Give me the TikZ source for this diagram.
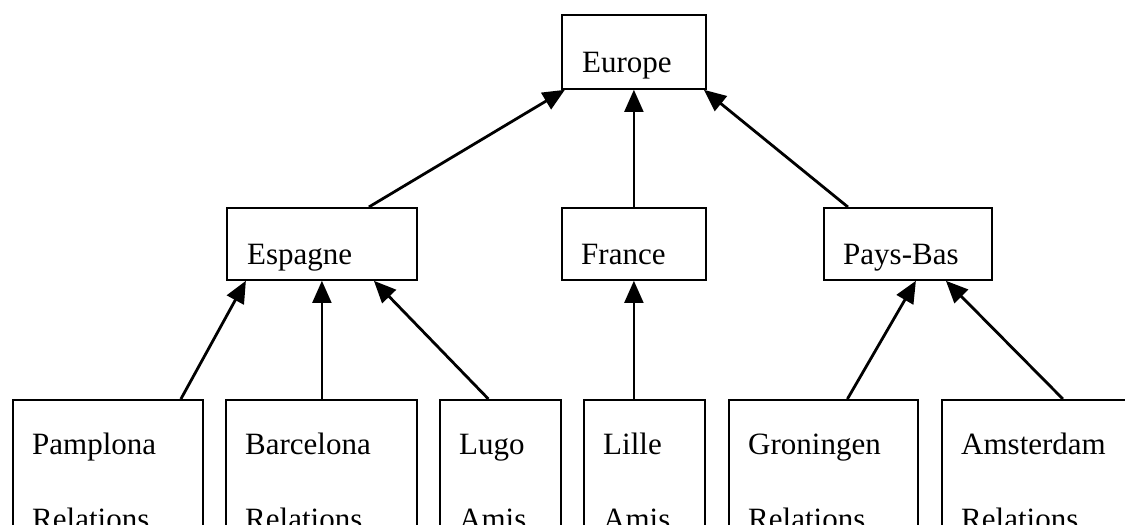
\documentclass[tikz,border=0pt]{standalone}
\usepackage{fontspec}
\setmainfont{Liberation Serif}
\usetikzlibrary{arrows.meta}
\begin{document}
\begin{tikzpicture}[x=1pt,y=-1pt,
  box/.style={draw, line width=1.8pt, rectangle, inner sep=0pt, anchor=north west},
  toprow/.style={box, minimum height=72pt},
  leaf/.style={box, minimum height=170pt},
  lbl/.style={anchor=base west, inner sep=0pt, font=\fontsize{31}{37}\selectfont},
  link/.style={line width=2.8pt, -{Triangle[length=22pt,width=19pt]}},
  thinlink/.style={link, line width=1.8pt}]
\useasboundingbox (0,0) rectangle (1125,525);
\clip (0,0) rectangle (1125,525);

% root
\node[box, minimum width=144pt, minimum height=74pt] (europe) at (561,14) {};
\node[lbl] (europe-l) at ([xshift=21pt,yshift=17pt]europe.south west) {Europe};

% countries
\node[toprow, minimum width=190pt] (espagne) at (226,207) {};
\node[toprow, minimum width=144pt] (france)  at (561,207) {};
\node[toprow, minimum width=168pt] (paysbas) at (823,207) {};
\node[lbl] (espagne-l) at ([xshift=21pt,yshift=16pt]espagne.south west) {Espagne};
\node[lbl] (france-l)  at ([xshift=20pt,yshift=16pt]france.south west) {France};
\node[lbl] (paysbas-l) at ([xshift=20pt,yshift=16pt]paysbas.south west) {Pays-Bas};

% cities
\node[leaf, minimum width=190pt] (pamplona)  at (12,399)  {};
\node[leaf, minimum width=191pt] (barcelona) at (225,399) {};
\node[leaf, minimum width=121pt] (lugo)      at (439,399) {};
\node[leaf, minimum width=121pt] (lille)     at (583,399) {};
\node[leaf, minimum width=189pt] (groningen) at (728,399) {};
\node[leaf, minimum width=190pt] (amsterdam) at (941,399) {};

\foreach \c/\a/\b in {pamplona/Pamplona/Relations, barcelona/Barcelona/Relations,
                      lugo/Lugo/Amis, lille/Lille/Amis,
                      groningen/Groningen/Relations, amsterdam/Amsterdam/Relations}{
  \node[lbl] (\c-a) at ([xshift=20pt,yshift=-55pt]\c.north west) {\a};
  \node[lbl] (\c-b) at ([xshift=20pt,yshift=-130pt]\c.north west) {\b};
}

% hierarchy links
\draw[link] ([xshift=47pt]espagne.north) -- ([xshift=-69pt]europe.south);
\draw[thinlink] (france.north) -- (europe.south);
\draw[link] ([xshift=-60pt]paysbas.north) -- ([xshift=70pt]europe.south);

\draw[link] ([xshift=73pt]pamplona.north) -- ([xshift=-76pt]espagne.south);
\draw[thinlink] (barcelona.north -| espagne.south) -- (espagne.south);
\draw[link] ([xshift=-12pt]lugo.north) -- ([xshift=52pt]espagne.south);

\draw[thinlink] (lille.north -| france.south) -- (france.south);

\draw[link] ([xshift=24pt]groningen.north) -- ([xshift=8pt]paysbas.south);
\draw[link] ([xshift=26pt]amsterdam.north) -- ([xshift=38pt]paysbas.south);
\end{tikzpicture}
\end{document}
